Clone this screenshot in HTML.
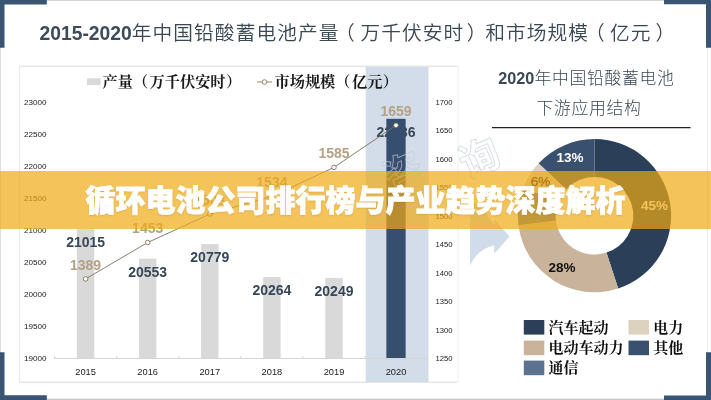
<!DOCTYPE html>
<html lang="zh-CN">
<head>
<meta charset="utf-8">
<title>循环电池公司排行榜与产业趋势深度解析</title>
<style>
html,body{margin:0;padding:0;background:#fff;}
body{width:711px;height:400px;position:relative;overflow:hidden;font-family:"Liberation Sans", "Noto Sans CJK SC", sans-serif;}
.banner{position:absolute;left:0;top:171px;width:711px;height:57.5px;background:rgba(239,170,20,0.7);}
.banner h1{margin:0;position:absolute;left:0;width:711px;top:0;height:58px;line-height:60px;text-align:center;color:#fff;font-family:"Liberation Sans","Noto Sans CJK SC",sans-serif;font-weight:900;font-size:30px;letter-spacing:0;-webkit-text-stroke:0.8px #fff;text-shadow:0 1px 2px rgba(150,100,0,0.3);white-space:nowrap;}
</style>
</head>
<body>
<svg width="711" height="400" viewBox="0 0 711 400" style="position:absolute;left:0;top:0">
<rect x="0" y="0" width="711" height="400" fill="#fff"/>
<rect x="0" y="0" width="711" height="1" fill="#d4d4d4"/>
<rect x="0" y="398.6" width="711" height="1.4" fill="#c9c9c9"/>
<rect x="0" y="0" width="1" height="400" fill="#dcdcdc"/>
<rect x="707" y="0" width="1" height="400" fill="#ebebeb"/>
<path d="M0 0H46.8V4.5H4.5V47.7H0Z" fill="#3a5474"/>
<path d="M711 0H664V4.2H706V47.7H711Z" fill="#3a5474"/>
<path d="M0 400H46.8V395.3H4.5V352.3H0Z" fill="#3a5474"/>
<path d="M711 400H664V395.5H706V352.3H711Z" fill="#3a5474"/>
<text x="39.5" y="40.3" font-family='"Liberation Sans", "Noto Sans CJK SC", sans-serif' font-size="19.7" letter-spacing="1.1" fill="#3a4855" font-weight="350"><tspan font-weight="700" font-size="19.3" letter-spacing="0" fill="#3d4b5a">2015-2020</tspan>年中国铅酸蓄电池产量<tspan dx="-4.5">（</tspan><tspan dx="4.5">万</tspan>千伏安时<tspan dx="2.5">）</tspan><tspan dx="-2.5">和</tspan>市场规模<tspan dx="-4">（</tspan><tspan dx="4">亿</tspan>元<tspan dx="4">）</tspan></text>
<path d="M19 66.2H457.5" stroke="#dcdcdc" stroke-width="1" fill="none"/><path d="M19 382.2H457.5" stroke="#d9d9d9" stroke-width="1" fill="none"/><path d="M19.5 66.2V382.2" stroke="#e9e9e9" stroke-width="1" fill="none"/><path d="M458 66.2V382.2" stroke="#f0f0f0" stroke-width="1" fill="none"/>
<rect x="365.7" y="66.7" width="62.8" height="315.3" fill="#d2dde9"/>
<path d="M470.1 266C473.5 256.5 481.5 248.5 494.2 245.2V253.7L509.5 236.5L494.2 219.3V226C488 214 480 205 470.1 200Z" fill="#d0dcea"/>
<rect x="76.9" y="229.0" width="17.4" height="129.0" fill="#d9d9d9"/>
<rect x="139.0" y="258.6" width="17.4" height="99.4" fill="#d9d9d9"/>
<rect x="201.1" y="244.1" width="17.4" height="113.9" fill="#d9d9d9"/>
<rect x="263.2" y="277.1" width="17.4" height="80.9" fill="#d9d9d9"/>
<rect x="325.3" y="278.1" width="17.4" height="79.9" fill="#d9d9d9"/>
<rect x="386.6" y="118.9" width="18.8" height="239.1" fill="#374f6e"/>
<path d="M54.6 358.5H427.1" stroke="#d6d6d6" stroke-width="1" fill="none"/>
<path d="M54.6 356.0V359.0" stroke="#d6d6d6" stroke-width="1"/>
<path d="M116.7 356.0V359.0" stroke="#d6d6d6" stroke-width="1"/>
<path d="M178.8 356.0V359.0" stroke="#d6d6d6" stroke-width="1"/>
<path d="M240.8 356.0V359.0" stroke="#d6d6d6" stroke-width="1"/>
<path d="M302.9 356.0V359.0" stroke="#d6d6d6" stroke-width="1"/>
<path d="M365.0 356.0V359.0" stroke="#d6d6d6" stroke-width="1"/>
<path d="M427.1 356.0V359.0" stroke="#d6d6d6" stroke-width="1"/>
<text x="24" y="360.9" font-family='"Liberation Sans", "Noto Sans CJK SC", sans-serif' font-size="8.1" fill="#222">19000</text>
<text x="24" y="328.9" font-family='"Liberation Sans", "Noto Sans CJK SC", sans-serif' font-size="8.1" fill="#222">19500</text>
<text x="24" y="296.9" font-family='"Liberation Sans", "Noto Sans CJK SC", sans-serif' font-size="8.1" fill="#222">20000</text>
<text x="24" y="264.9" font-family='"Liberation Sans", "Noto Sans CJK SC", sans-serif' font-size="8.1" fill="#222">20500</text>
<text x="24" y="232.9" font-family='"Liberation Sans", "Noto Sans CJK SC", sans-serif' font-size="8.1" fill="#222">21000</text>
<text x="24" y="200.9" font-family='"Liberation Sans", "Noto Sans CJK SC", sans-serif' font-size="8.1" fill="#222">21500</text>
<text x="24" y="168.9" font-family='"Liberation Sans", "Noto Sans CJK SC", sans-serif' font-size="8.1" fill="#222">22000</text>
<text x="24" y="136.9" font-family='"Liberation Sans", "Noto Sans CJK SC", sans-serif' font-size="8.1" fill="#222">22500</text>
<text x="24" y="104.9" font-family='"Liberation Sans", "Noto Sans CJK SC", sans-serif' font-size="8.1" fill="#222">23000</text>
<text x="435.5" y="360.9" font-family='"Liberation Sans", "Noto Sans CJK SC", sans-serif' font-size="7.7" fill="#222">1250</text>
<text x="435.5" y="332.5" font-family='"Liberation Sans", "Noto Sans CJK SC", sans-serif' font-size="7.7" fill="#222">1300</text>
<text x="435.5" y="304.0" font-family='"Liberation Sans", "Noto Sans CJK SC", sans-serif' font-size="7.7" fill="#222">1350</text>
<text x="435.5" y="275.6" font-family='"Liberation Sans", "Noto Sans CJK SC", sans-serif' font-size="7.7" fill="#222">1400</text>
<text x="435.5" y="247.1" font-family='"Liberation Sans", "Noto Sans CJK SC", sans-serif' font-size="7.7" fill="#222">1450</text>
<text x="435.5" y="218.7" font-family='"Liberation Sans", "Noto Sans CJK SC", sans-serif' font-size="7.7" fill="#222">1500</text>
<text x="435.5" y="190.2" font-family='"Liberation Sans", "Noto Sans CJK SC", sans-serif' font-size="7.7" fill="#222">1550</text>
<text x="435.5" y="161.8" font-family='"Liberation Sans", "Noto Sans CJK SC", sans-serif' font-size="7.7" fill="#222">1600</text>
<text x="435.5" y="133.3" font-family='"Liberation Sans", "Noto Sans CJK SC", sans-serif' font-size="7.7" fill="#222">1650</text>
<text x="435.5" y="104.9" font-family='"Liberation Sans", "Noto Sans CJK SC", sans-serif' font-size="7.7" fill="#222">1700</text>
<text x="85.6" y="375.4" text-anchor="middle" font-family='"Liberation Sans", "Noto Sans CJK SC", sans-serif' font-size="9.3" fill="#222">2015</text>
<text x="147.7" y="375.4" text-anchor="middle" font-family='"Liberation Sans", "Noto Sans CJK SC", sans-serif' font-size="9.3" fill="#222">2016</text>
<text x="209.8" y="375.4" text-anchor="middle" font-family='"Liberation Sans", "Noto Sans CJK SC", sans-serif' font-size="9.3" fill="#222">2017</text>
<text x="271.9" y="375.4" text-anchor="middle" font-family='"Liberation Sans", "Noto Sans CJK SC", sans-serif' font-size="9.3" fill="#222">2018</text>
<text x="334.0" y="375.4" text-anchor="middle" font-family='"Liberation Sans", "Noto Sans CJK SC", sans-serif' font-size="9.3" fill="#222">2019</text>
<text x="396.0" y="375.4" text-anchor="middle" font-family='"Liberation Sans", "Noto Sans CJK SC", sans-serif' font-size="9.3" fill="#222">2020</text>
<text x="85.6" y="247.0" text-anchor="middle" font-family='"Liberation Sans", "Noto Sans CJK SC", sans-serif' font-size="14" font-weight="700" fill="#36475a">21015</text>
<text x="147.7" y="276.6" text-anchor="middle" font-family='"Liberation Sans", "Noto Sans CJK SC", sans-serif' font-size="14" font-weight="700" fill="#36475a">20553</text>
<text x="209.8" y="262.1" text-anchor="middle" font-family='"Liberation Sans", "Noto Sans CJK SC", sans-serif' font-size="14" font-weight="700" fill="#36475a">20779</text>
<text x="271.9" y="295.1" text-anchor="middle" font-family='"Liberation Sans", "Noto Sans CJK SC", sans-serif' font-size="14" font-weight="700" fill="#36475a">20264</text>
<text x="334.0" y="296.1" text-anchor="middle" font-family='"Liberation Sans", "Noto Sans CJK SC", sans-serif' font-size="14" font-weight="700" fill="#36475a">20249</text>
<text x="396.0" y="136.9" text-anchor="middle" font-family='"Liberation Sans", "Noto Sans CJK SC", sans-serif' font-size="14" font-weight="700" fill="#36475a">22736</text>
<rect x="386.6" y="118.9" width="18.8" height="239.1" fill="#374f6e"/>
<g font-family='"Liberation Sans", "Noto Sans CJK SC", sans-serif' font-size="40" font-weight="700" fill="none" stroke="#c3cedd" stroke-width="0.9" opacity="0.7"><text transform="translate(391,194) rotate(-24)">咨</text><text transform="translate(467,179) rotate(-24)">询</text></g>
<polyline points="85.6,278.9 147.7,242.5 209.8,214.1 271.9,196.4 334.0,167.4 396.0,125.3" fill="none" stroke="#7f725c" stroke-width="0.9"/>
<circle cx="85.6" cy="278.9" r="2.3" fill="#fff" stroke="#7f725c" stroke-width="0.9"/>
<text x="85.6" y="269.6" text-anchor="middle" font-family='"Liberation Sans", "Noto Sans CJK SC", sans-serif' font-size="14" font-weight="700" fill="#b5a188">1389</text>
<circle cx="147.7" cy="242.5" r="2.3" fill="#fff" stroke="#7f725c" stroke-width="0.9"/>
<text x="147.7" y="233.2" text-anchor="middle" font-family='"Liberation Sans", "Noto Sans CJK SC", sans-serif' font-size="14" font-weight="700" fill="#b5a188">1453</text>
<circle cx="209.8" cy="214.1" r="2.3" fill="#fff" stroke="#7f725c" stroke-width="0.9"/>
<text x="209.8" y="204.8" text-anchor="middle" font-family='"Liberation Sans", "Noto Sans CJK SC", sans-serif' font-size="14" font-weight="700" fill="#b5a188">1503</text>
<circle cx="271.9" cy="196.4" r="2.3" fill="#fff" stroke="#7f725c" stroke-width="0.9"/>
<text x="271.9" y="187.1" text-anchor="middle" font-family='"Liberation Sans", "Noto Sans CJK SC", sans-serif' font-size="14" font-weight="700" fill="#b5a188">1534</text>
<circle cx="334.0" cy="167.4" r="2.3" fill="#fff" stroke="#7f725c" stroke-width="0.9"/>
<text x="334.0" y="158.1" text-anchor="middle" font-family='"Liberation Sans", "Noto Sans CJK SC", sans-serif' font-size="14" font-weight="700" fill="#b5a188">1585</text>
<circle cx="396.0" cy="125.3" r="2.3" fill="#fff" stroke="#7f725c" stroke-width="0.9"/>
<text x="396.0" y="116.0" text-anchor="middle" font-family='"Liberation Sans", "Noto Sans CJK SC", sans-serif' font-size="14" font-weight="700" fill="#b5a188">1659</text>
<rect x="87" y="78.3" width="13.6" height="6.8" fill="#d9d9d9"/>
<text x="102.5" y="87.2" font-family='"Liberation Serif", "Noto Serif CJK SC", serif' font-size="15.2" font-weight="700" fill="#1a1a1a">产量（<tspan dx="1.5">万</tspan>千伏安时<tspan dx="0.5">）</tspan></text>
<path d="M257 82H272" stroke="#96876a" stroke-width="1"/><circle cx="264.5" cy="82" r="2.3" fill="#fff" stroke="#96876a" stroke-width="1"/>
<text x="274.5" y="87.2" font-family='"Liberation Serif", "Noto Serif CJK SC", serif' font-size="15.2" font-weight="700" fill="#1a1a1a">市场规模（<tspan dx="1.5">亿</tspan>元<tspan dx="0.5">）</tspan></text>
<text x="586.5" y="84" text-anchor="middle" font-family='"Liberation Sans", "Noto Sans CJK SC", sans-serif' font-size="16.8" letter-spacing="0.75" font-weight="300" fill="#3a4855"><tspan font-weight="700" font-size="16.2" letter-spacing="0">2020</tspan>年中国铅酸蓄电池</text>
<text x="589" y="113.8" text-anchor="middle" font-family='"Liberation Sans", "Noto Sans CJK SC", sans-serif' font-size="16.8" letter-spacing="0.75" font-weight="300" fill="#3a4855">下游应用结构</text>
<path d="M492 127.6H690.5" stroke="#222" stroke-width="1.2"/>
<path d="M594.50 139.10A76.6 76.6 0 0 1 618.17 288.55L606.49 252.60A38.8 38.8 0 0 0 594.50 176.90Z" fill="#2b3f58"/>
<path d="M618.17 288.55A76.6 76.6 0 0 1 518.50 225.30L556.01 220.56A38.8 38.8 0 0 0 606.49 252.60Z" fill="#c9b49b"/>
<path d="M518.50 225.30A76.6 76.6 0 0 1 523.28 187.50L558.42 201.42A38.8 38.8 0 0 0 556.01 220.56Z" fill="#5d7190"/>
<path d="M523.28 187.50A76.6 76.6 0 0 1 538.66 163.26L566.22 189.14A38.8 38.8 0 0 0 558.42 201.42Z" fill="#ddd1bf"/>
<path d="M538.66 163.26A76.6 76.6 0 0 1 594.50 139.10L594.50 176.90A38.8 38.8 0 0 0 566.22 189.14Z" fill="#39516f"/>
<text x="654.5" y="210" text-anchor="middle" font-family='"Liberation Sans", "Noto Sans CJK SC", sans-serif' font-size="13.5" font-weight="700" fill="#ffffff">45%</text>
<text x="562" y="272" text-anchor="middle" font-family='"Liberation Sans", "Noto Sans CJK SC", sans-serif' font-size="13.5" font-weight="700" fill="#111">28%</text>
<text x="540.5" y="186" text-anchor="middle" font-family='"Liberation Sans", "Noto Sans CJK SC", sans-serif' font-size="13.5" fill="#000" stroke="#000" stroke-width="0.25">6%</text>
<text x="570" y="162" text-anchor="middle" font-family='"Liberation Sans", "Noto Sans CJK SC", sans-serif' font-size="13.5" font-weight="700" fill="#fff">13%</text>
<rect x="523.8" y="320" width="20.5" height="14.6" fill="#2b3f58"/>
<text x="548.5" y="332.6" font-family='"Liberation Serif", "Noto Serif CJK SC", serif' font-size="15" font-weight="700" fill="#111">汽车起动</text>
<rect x="628.5" y="320" width="20.5" height="14.6" fill="#ddd1bf"/>
<text x="653.2" y="332.6" font-family='"Liberation Serif", "Noto Serif CJK SC", serif' font-size="15" font-weight="700" fill="#111">电力</text>
<rect x="523.8" y="340.6" width="20.5" height="14.6" fill="#c9b49b"/>
<text x="548.5" y="353.4" font-family='"Liberation Serif", "Noto Serif CJK SC", serif' font-size="15" font-weight="700" fill="#111">电动车动力</text>
<rect x="628.5" y="340.6" width="20.5" height="14.6" fill="#39516f"/>
<text x="653.2" y="353.4" font-family='"Liberation Serif", "Noto Serif CJK SC", serif' font-size="15" font-weight="700" fill="#111">其他</text>
<rect x="523.8" y="360.6" width="20.5" height="14.6" fill="#5d7190"/>
<text x="548.5" y="373" font-family='"Liberation Serif", "Noto Serif CJK SC", serif' font-size="15" font-weight="700" fill="#111">通信</text>
</svg>
<div class="banner"><h1>循环电池公司排行榜与产业趋势深度解析</h1></div>
</body>
</html>
